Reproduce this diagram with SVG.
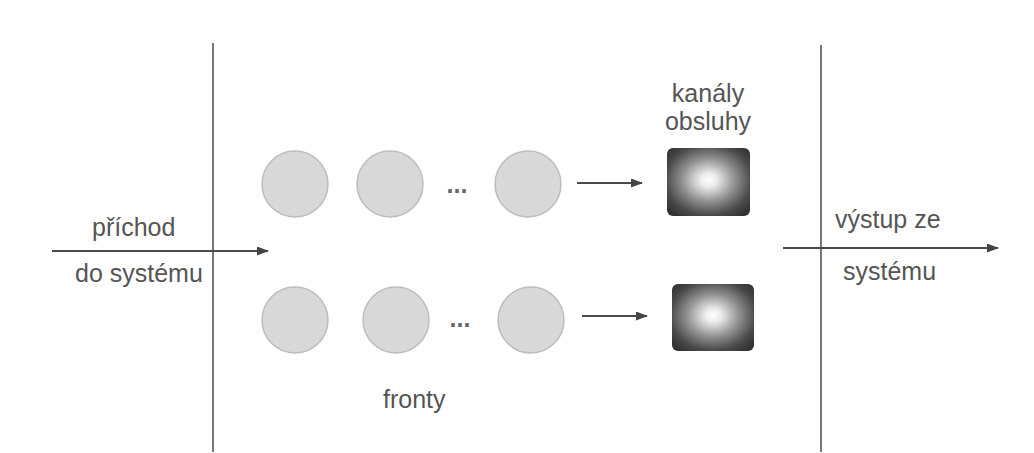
<svg xmlns="http://www.w3.org/2000/svg" width="1034" height="453" viewBox="0 0 1034 453">
<style>
.t{font-family:"Liberation Sans",Arial,sans-serif;font-size:25px;fill:#555}
.ln{stroke:#4a4a4a;stroke-width:2;fill:none}
.dv{stroke:#555;stroke-width:1.6}
.q{fill:#d8d8d8;stroke:#bdbdbd;stroke-width:1.5}
.srv{fill:url(#g)}
.dot{font-family:"Liberation Sans",Arial,sans-serif;font-size:25px;font-weight:bold;fill:#666}
</style>
<defs>
<radialGradient id="g" cx="0.5" cy="0.47" r="0.65">
<stop offset="0" stop-color="#ffffff"/>
<stop offset="0.15" stop-color="#ececec"/>
<stop offset="0.5" stop-color="#8e8e8e"/>
<stop offset="0.8" stop-color="#4a4a4a"/>
<stop offset="1" stop-color="#333"/>
</radialGradient>
<marker id="a" markerWidth="12" markerHeight="9" refX="11" refY="4.5" orient="auto" markerUnits="userSpaceOnUse">
<path d="M0,0 L12,4.5 L0,9 Z" fill="#444"/>
</marker>
</defs>
<rect width="1034" height="453" fill="#fff"/>
<g id="boundaries">
<line class="dv" x1="213" y1="43" x2="213" y2="452"/>
<line class="dv" x1="821" y1="45" x2="821" y2="452"/>
</g>
<g id="connectors">
<line class="ln" x1="52" y1="251" x2="268" y2="251" marker-end="url(#a)"/>
<line class="ln" x1="577" y1="183" x2="642" y2="183" marker-end="url(#a)"/>
<line class="ln" x1="582" y1="316" x2="647" y2="316" marker-end="url(#a)"/>
<line class="ln" x1="783" y1="248" x2="998" y2="248" marker-end="url(#a)"/>
</g>
<g id="queue1">
<circle class="q" cx="295" cy="184" r="33"/>
<circle class="q" cx="390" cy="184" r="33"/>
<text class="dot" x="457" y="193" text-anchor="middle">...</text>
<circle class="q" cx="528" cy="184" r="33"/>
</g>
<g id="queue2">
<circle class="q" cx="295" cy="320" r="33"/>
<circle class="q" cx="396" cy="320" r="33"/>
<text class="dot" x="460" y="327" text-anchor="middle">...</text>
<circle class="q" cx="531" cy="320" r="33"/>
</g>
<g id="server1">
<rect class="srv" x="667" y="148" width="83" height="68" rx="6"/>
</g>
<g id="server2">
<rect class="srv" x="672" y="284" width="82" height="67" rx="6"/>
</g>
<g id="labels">
<text class="t" x="92" y="236">příchod</text>
<text class="t" x="75" y="282">do systému</text>
<text class="t" x="708" y="102" text-anchor="middle">kanály</text>
<text class="t" x="708" y="130" text-anchor="middle">obsluhy</text>
<text class="t" x="835" y="228">výstup ze</text>
<text class="t" x="843" y="280">systému</text>
<text class="t" x="383" y="408">fronty</text>
</g>
</svg>
